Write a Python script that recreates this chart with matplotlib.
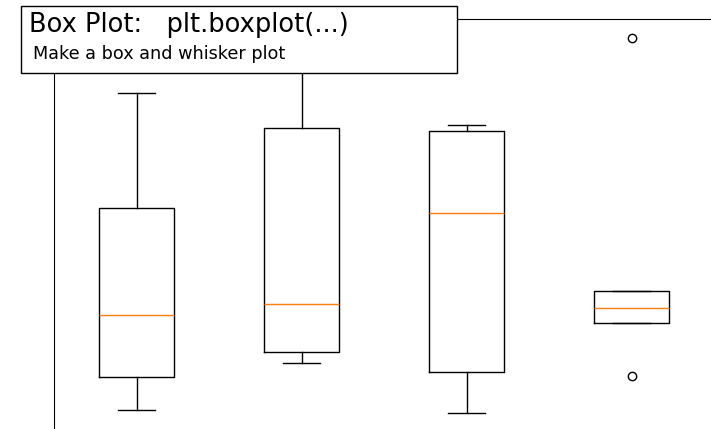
import matplotlib.pyplot as plt
from matplotlib.patches import Rectangle

# box statistics (arbitrary units, 0..10)
positions = [1, 2, 3, 4]
whislo = [0.93, 2.01, 0.87, 2.94]
q1 = [1.69, 2.28, 1.81, 2.94]
med = [3.13, 3.39, 5.49, 3.29]
q3 = [5.62, 7.46, 7.40, 3.69]
whishi = [8.28, 9.51, 7.55, 3.69]
fliers = [[], [], [], [9.56, 1.72]]

stats = []
for i in range(len(positions)):
    stats.append(dict(whislo=whislo[i], q1=q1[i], med=med[i], q3=q3[i],
                      whishi=whishi[i], fliers=fliers[i]))

fig = plt.figure(figsize=(7.11, 4.29), dpi=100)
ax = fig.add_axes([54 / 711, -21 / 429, 660 / 711, 431 / 429])
ax.bxp(stats, positions=positions, widths=0.45)
ax.set_xlim(0.5, 4.5)
ax.set_ylim(0, 10)
ax.set_xticks([])
ax.set_yticks([])

# label box on top
fig.patches.append(Rectangle((21 / 711, 1 - 73 / 429), 436 / 711, 67 / 429,
                             transform=fig.transFigure, facecolor="white",
                             edgecolor="black", linewidth=1, zorder=2))
fig.text(29 / 711, 1 - 31.5 / 429, "Box Plot:   plt.boxplot(...)",
         ha="left", va="baseline", size=18.5, zorder=3)
fig.text(33 / 711, 1 - 59 / 429, "Make a box and whisker plot",
         ha="left", va="baseline", size=12.7, zorder=3)

fig.savefig("out.png", dpi=100)
